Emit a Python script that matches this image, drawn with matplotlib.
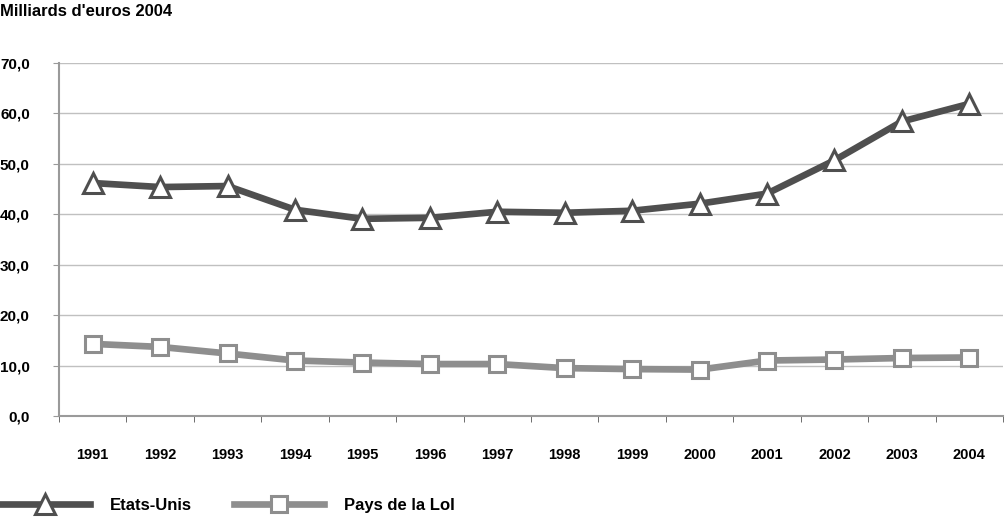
import matplotlib
matplotlib.use("Agg")
import matplotlib.pyplot as plt
from matplotlib import font_manager

# data (milliards d'euros 2004)
years = ["1991", "1992", "1993", "1994", "1995", "1996", "1997",
         "1998", "1999", "2000", "2001", "2002", "2003", "2004"]
etats_unis = [46.2, 45.4, 45.6, 40.9, 39.1, 39.3, 40.5,
              40.3, 40.7, 42.1, 44.1, 50.7, 58.4, 61.9]
pays_loi = [14.3, 13.7, 12.4, 11.0, 10.6, 10.3, 10.3,
            9.5, 9.3, 9.2, 11.0, 11.2, 11.5, 11.6]
y_ticks = [0, 10, 20, 30, 40, 50, 60, 70]

# narrow font if available, else plain Liberation Sans
names = {f.name for f in font_manager.fontManager.ttflist}
family = "Liberation Sans Narrow" if "Liberation Sans Narrow" in names else "Liberation Sans"
plt.rcParams["font.family"] = [family, "DejaVu Sans"]
plt.rcParams["font.weight"] = "bold"

dark = "#4f4f4f"
light = "#8e8e8e"
axis_grey = "#9a9a9a"

fig = plt.figure(figsize=(10.07, 5.17), dpi=100)
ax = fig.add_axes([59 / 1007, 1 - 416 / 517, 944 / 1007, 353 / 517])

x = list(range(len(years)))
ax.plot(x, etats_unis, color=dark, lw=4.8, marker="^", markersize=15,
        markerfacecolor="white", markeredgecolor=dark, markeredgewidth=2.2,
        label="Etats-Unis", zorder=3)
ax.plot(x, pays_loi, color=light, lw=4.8, marker="s", markersize=11.5,
        markerfacecolor="white", markeredgecolor=light, markeredgewidth=2.2,
        label="Pays de la LoI", zorder=3)

ax.set_xlim(-0.5, len(years) - 0.5)
ax.set_ylim(0, 70)
ax.set_yticks(y_ticks)
ax.set_yticklabels([f"{v:.1f}".replace(".", ",") for v in y_ticks])
ax.set_xticks(x)
ax.set_xticklabels(years)
ax.set_xticks([i - 0.5 for i in range(len(years) + 1)], minor=True)

ax.grid(axis="y", color="#c0c0c0", lw=1)
ax.set_axisbelow(True)
for s in ["top", "right"]:
    ax.spines[s].set_visible(False)
for s in ["left", "bottom"]:
    ax.spines[s].set_color(axis_grey)
    ax.spines[s].set_linewidth(1.5)

ax.tick_params(axis="x", which="major", length=0, pad=23, labelsize=10.5)
ax.tick_params(axis="x", which="minor", length=4, color="#555555", direction="out")
ax.tick_params(axis="y", length=4, color=axis_grey, pad=17, labelsize=11)

fig.text(0.0, 0.993, "Milliards d'euros 2004", fontsize=12, fontweight="bold",
         va="top", ha="left")

fig.legend(loc="lower left", bbox_to_anchor=(0.0, 0.008), ncol=2, frameon=False,
           borderpad=0, borderaxespad=0,
           handlelength=5.4, handletextpad=1.2, columnspacing=2.5,
           prop={"size": 12, "weight": "bold"})

fig.savefig("out.png", dpi=100)
